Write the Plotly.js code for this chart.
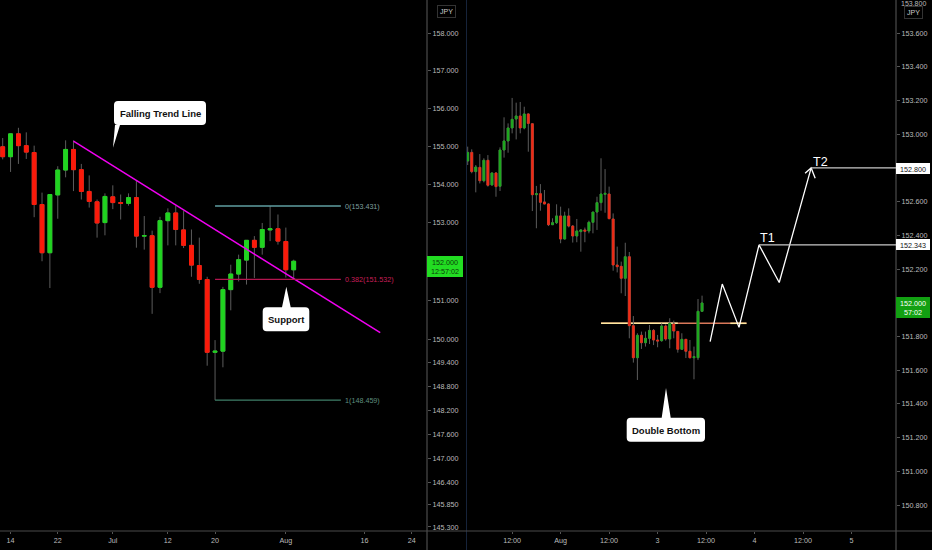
<!DOCTYPE html>
<html>
<head>
<meta charset="utf-8">
<script src="https://cdn.plot.ly/plotly-3.0.1.min.js"></script>
<style>html,body{margin:0;padding:0;background:#000}#chart{width:932px;height:550px}</style>
</head>
<body>
<div id="chart"></div>
<script>
// left pane (daily) candles
const dOpen  = [154.98,154.72,155.32,155.01,154.83,153.47,152.22,153.72,154.37,154.91,154.38,153.81,153.54,153.00,153.67,153.52,153.50,153.65,152.65,152.66,151.33,153.05,153.25,152.81,152.41,151.89,151.53,149.67,149.70,151.27,151.67,152.03,152.54,152.36,152.81,152.84,152.51,151.78];
const dHigh  = [155.21,155.33,155.48,155.36,155.01,153.78,153.73,154.47,155.15,155.15,154.53,154.23,153.60,153.76,153.97,153.73,153.76,154.10,153.17,152.79,153.15,153.37,153.44,153.30,152.82,152.61,151.60,149.98,151.34,151.91,152.17,152.54,152.65,152.99,153.43,153.21,152.87,152.04];
const dLow   = [154.65,154.32,154.53,154.66,153.14,152.00,151.31,153.10,154.18,153.82,153.60,153.39,152.61,152.67,153.35,153.08,153.44,152.35,152.30,150.65,151.18,152.41,152.41,152.34,151.60,151.42,149.33,148.46,149.29,150.74,151.48,151.40,151.57,152.17,152.52,152.43,151.58,151.55];
const dClose = [154.72,155.32,155.01,154.84,153.47,152.22,153.73,154.37,154.91,154.38,153.81,153.55,152.99,153.68,153.52,153.50,153.65,152.65,152.66,151.33,153.05,153.25,152.82,152.41,151.90,151.53,149.67,149.70,151.27,151.67,152.04,152.54,152.36,152.82,152.84,152.52,151.78,152.00];

// right pane (hourly) candles
const hOpen  = [152.841,152.892,152.778,152.803,152.724,152.845,152.699,152.770,152.691,152.906,152.960,153.037,153.090,153.108,153.037,153.120,153.062,152.641,152.647,152.598,152.586,152.463,152.475,152.515,152.378,152.515,152.455,152.396,152.422,152.432,152.426,152.477,152.538,152.594,152.643,152.645,152.497,152.224,152.216,152.145,152.273,151.864,151.674,151.807,151.763,151.789,151.836,151.779,151.775,151.862,151.785,151.874,151.830,151.724,151.783,151.712,151.674,151.674,151.949];
const hHigh  = [152.926,152.910,152.817,152.882,152.857,152.876,152.772,152.774,152.922,153.100,153.064,153.215,153.187,153.191,153.163,153.124,153.064,152.693,152.704,152.669,152.590,152.501,152.584,152.570,152.540,152.560,152.461,152.497,152.436,152.446,152.487,152.538,152.629,152.857,152.793,152.689,152.530,152.333,152.244,152.356,152.301,151.921,151.819,151.829,151.829,151.868,151.844,151.809,151.878,151.872,151.908,151.894,151.830,151.819,151.783,151.779,151.740,152.022,152.042];
const hLow   = [152.817,152.768,152.655,152.708,152.714,152.689,152.695,152.629,152.663,152.861,152.890,153.005,152.969,153.005,153.029,152.896,152.544,152.442,152.546,152.584,152.455,152.461,152.467,152.353,152.376,152.447,152.357,152.359,152.303,152.359,152.412,152.412,152.432,152.546,152.534,152.495,152.190,152.180,152.056,152.040,151.789,151.645,151.542,151.726,151.740,151.755,151.749,151.736,151.769,151.775,151.730,151.789,151.704,151.720,151.672,151.670,151.546,151.660,151.949];
const hClose = [152.892,152.778,152.805,152.724,152.845,152.697,152.770,152.689,152.906,152.960,153.037,153.088,153.108,153.037,153.120,153.064,152.641,152.647,152.596,152.586,152.463,152.475,152.515,152.378,152.515,152.455,152.396,152.426,152.432,152.424,152.477,152.538,152.594,152.645,152.649,152.499,152.224,152.214,152.145,152.273,151.864,151.674,151.807,151.763,151.789,151.836,151.779,151.773,151.862,151.785,151.878,151.832,151.724,151.783,151.712,151.674,151.680,151.949,151.999];

// tick labels
const leftTicks  = [158,157,156,155,154,153,151,150,149.4,148.8,148.2,147.6,147,146.4,145.85,145.3];
const leftLabels = ["158.000","157.000","156.000","155.000","154.000","153.000","151.000","150.000","149.400","148.800","148.200","147.600","147.000","146.400","145.850","145.300"];
const rightTicks = [153.6,153.4,153.2,153,152.8,152.6,152.4,152.2,152,151.8,151.6,151.4,151.2,151,150.8];
const rightLabels = rightTicks.map(v => v.toFixed(3));
const leftDateIdx = [1,7,14,21,27,36,46,52];
const leftDateLabels = ["14","22","Jul","12","20","Aug","16","24"];
const rightDateIdx = [11,23,35,47,59,71,83,95];
const rightDateLabels = ["12:00","Aug","12:00","3","12:00","4","12:00","5"];

// drawings
const trendX = [9,48];
const trendY = [155.13,150.17];
const fibLevels = [153.431,151.532,148.459];
const fibNames = ["0(153.431)","0.382(151.532)","1(148.459)"];
const fibColors = ["#5f9ea0","#b3164f","#3f7f68"];
const fibTextColors = ["#7f9f9f","#c81f58","#5f8f7f"];
const fibX = [27,43];
const pathX = [60,63,67.15,72.1,77.1,85];
const pathY = [151.769,152.111,151.854,152.343,152.12,152.80];
const headX = [83.5,85,86];
const headY = [152.768,152.80,152.738];
const t1X = [72.1,106], t1Y = [152.343,152.343];
const t2X = [85,106], t2Y = [152.80,152.80];
const baseLevel = 151.878;

const idx = a => a.map((_, i) => i);
const W = 932, H = 550;
const px = x => x / W;
const py = y => 1 - y / H;
const font = '"Liberation Sans", Arial, sans-serif';

function candleTraces(o, h, l, c, xa, ya, green, red, bodyLine) {
  const x = idx(o);
  const top = o.map((v, i) => Math.max(v, c[i]));
  const bot = o.map((v, i) => Math.min(v, c[i]));
  return [
    { type: "candlestick", x, open: o, high: h, low: l, close: c, xaxis: xa, yaxis: ya, hoverinfo: "skip",
      increasing: { line: { color: "#5c5c5c", width: 1 }, fillcolor: "#5c5c5c" },
      decreasing: { line: { color: "#5c5c5c", width: 1 }, fillcolor: "#5c5c5c" } },
    { type: "candlestick", x, open: o, high: top, low: bot, close: c, xaxis: xa, yaxis: ya, hoverinfo: "skip",
      increasing: { line: { color: green, width: bodyLine }, fillcolor: green },
      decreasing: { line: { color: red, width: bodyLine }, fillcolor: red } },
  ];
}

function lineTrace(x, y, xa, ya, color, width) {
  return { type: "scatter", mode: "lines", x, y, xaxis: xa, yaxis: ya, hoverinfo: "skip",
    line: { color, width } };
}

const traces = [
  ...candleTraces(dOpen, dHigh, dLow, dClose, "x", "y", "#20d420", "#fb1a0a", 1),
  ...candleTraces(hOpen, hHigh, hLow, hClose, "x2", "y2", "#1ea91e", "#f02a14", 0.6),
  lineTrace(trendX, trendY, "x", "y", "#f000f0", 1.5),
  lineTrace(pathX, pathY, "x2", "y2", "#ffffff", 1.3),
  lineTrace(headX, headY, "x2", "y2", "#ffffff", 1.3),
  lineTrace(t1X, t1Y, "x2", "y2", "#c8c8c8", 1.2),
  lineTrace(t2X, t2Y, "x2", "y2", "#c8c8c8", 1.2),
];

// callout: rounded box + tail, in page pixels
function bubble(x0, y0, x1, y1, tail) {
  const r = 4;
  const P = (x, y) => px(x) + "," + py(y);
  let d = "M" + P(x0 + r, y0) + " L" + P(x1 - r, y0) + " Q" + P(x1, y0) + " " + P(x1, y0 + r) +
    " L" + P(x1, y1 - r) + " Q" + P(x1, y1) + " " + P(x1 - r, y1);
  if (tail.side === "bottom") {
    d += " L" + P(tail.b1, y1) + " L" + P(tail.x, tail.y) + " L" + P(tail.b0, y1);
  }
  d += " L" + P(x0 + r, y1) + " Q" + P(x0, y1) + " " + P(x0, y1 - r) + " L" + P(x0, y0 + r) + " Q" + P(x0, y0) + " " + P(x0 + r, y0);
  if (tail.side === "top") {
    d = "M" + P(tail.b0, y0) + " L" + P(tail.x, tail.y) + " L" + P(tail.b1, y0) + " Z " + d;
  }
  return { type: "path", xref: "paper", yref: "paper", path: d + " Z", fillcolor: "#fff", line: { width: 0 }, layer: "above" };
}

const vline = (x, color) => ({ type: "line", xref: "paper", yref: "paper", x0: px(x), x1: px(x), y0: 0, y1: 1, line: { color, width: 1 }, layer: "below" });
const tag = (x0, y0, x1, y1, color) => ({ type: "rect", xref: "paper", yref: "paper", x0: px(x0), x1: px(x1), y0: py(y0), y1: py(y1), fillcolor: color, line: { width: 0 }, layer: "above" });

const shapes = [
  vline(427, "#5a5a5a"), vline(466.5, "#16233a"), vline(896, "#5a5a5a"),
  { type: "line", xref: "paper", yref: "paper", x0: 0, x1: 1, y0: py(531), y1: py(531), line: { color: "#4a4a4a", width: 1.2 }, layer: "below" },
  ...fibLevels.map((v, i) => ({ type: "line", xref: "x", yref: "y", x0: fibX[0], x1: fibX[1], y0: v, y1: v, line: { color: fibColors[i], width: 1.3 }, layer: "above" })),
  { type: "line", xref: "x2", yref: "y2", x0: 33, x1: 69, y0: baseLevel, y1: baseLevel, line: { color: "#d9785a", width: 1.5 }, layer: "below" },
  { type: "line", xref: "x2", yref: "y2", x0: 33, x1: 52, y0: baseLevel, y1: baseLevel, line: { color: "#ffe9a0", width: 1.5 }, layer: "below" },
  { type: "line", xref: "x2", yref: "y2", x0: 65, x1: 69, y0: baseLevel, y1: baseLevel, line: { color: "#ffe9a0", width: 1.5 }, layer: "below" },
  bubble(114, 101, 206, 125, { side: "bottom", b0: 115, b1: 120, x: 113, y: 147.7 }),
  bubble(262.7, 307.3, 309.3, 331.3, { side: "top", b0: 282, b1: 290.7, x: 286.3, y: 286.7 }),
  bubble(626.7, 417.7, 705, 441.7, { side: "top", b0: 661.7, b1: 670.7, x: 666, y: 388 }),
  tag(427, 256, 463, 277, "#22dd22"),
  tag(896, 297, 930, 318, "#12a012"),
  tag(896, 163, 930, 174, "#fff"),
  tag(896, 239, 930, 250, "#fff"),
];

const note = (x, y, text, color, size, extra) => Object.assign({
  xref: "paper", yref: "paper", x: px(x), y: py(y), text, showarrow: false,
  font: { family: font, size, color }, xanchor: "center", yanchor: "middle",
}, extra || {});

const annotations = [
  note(160, 113, "<b>Falling Trend Line</b>", "#111", 9.5),
  note(286, 319.3, "<b>Support</b>", "#111", 9.5),
  note(666, 430, "<b>Double Bottom</b>", "#111", 9.5),
  note(767, 238, "T1", "#fff", 12.5),
  note(820, 162, "T2", "#fff", 12.5),
  note(445, 262, "152.000", "#0a3a0a", 7.2),
  note(445, 271, "12:57:02", "#0a3a0a", 7.2),
  note(913, 303, "152.000", "#fff", 7.2),
  note(913, 312, "57:02", "#fff", 7.2),
  note(913, 169, "152.800", "#111", 7.2),
  note(913, 245, "152.343", "#111", 7.2),
  note(913, 3, "153.800", "#bbb", 7),
  note(446.5, 11, "JPY", "#ccc", 7, { bordercolor: "#333", borderwidth: 1, borderpad: 2 }),
  note(913.5, 12, "JPY", "#ccc", 7, { bordercolor: "#333", borderwidth: 1, borderpad: 2 }),
  ...fibLevels.map((v, i) => ({
    xref: "x", yref: "y", x: 43.3, y: Math.log10(v), text: fibNames[i], showarrow: false,
    font: { family: font, size: 7.2, color: fibTextColors[i] }, xanchor: "left", yanchor: "middle",
  })),
];

const xAxisBase = {
  showgrid: false, zeroline: false, showline: false, rangeslider: { visible: false },
  tickmode: "array", ticks: "outside", ticklen: 2, tickcolor: "#555",
  tickfont: { family: font, size: 7.2, color: "#bbb" }, tickangle: 0,
};
const yAxisBase = {
  showgrid: false, zeroline: false, showline: false, side: "right",
  tickmode: "array", ticks: "outside", ticklen: 3, tickcolor: "#555",
  tickfont: { family: font, size: 7.2, color: "#bbb" },
};

const layout = {
  width: W, height: H,
  margin: { l: 0, r: 0, t: 0, b: 0 },
  paper_bgcolor: "#000", plot_bgcolor: "#000",
  showlegend: false, dragmode: false, boxgap: 0.3,
  xaxis: { ...xAxisBase, domain: [0, px(427)], range: [-0.343, 53.95], tickvals: leftDateIdx, ticktext: leftDateLabels, anchor: "y" },
  yaxis: { ...yAxisBase, domain: [19 / H, 1], type: "log", range: [2.16197, 2.20109], tickvals: leftTicks, ticktext: leftLabels, anchor: "x" },
  xaxis2: { ...xAxisBase, domain: [px(467), px(896)], range: [-0.17, 106], tickvals: rightDateIdx, ticktext: rightDateLabels, anchor: "y2" },
  yaxis2: { ...yAxisBase, domain: [19 / H, 1], range: [150.646, 153.796], tickvals: rightTicks, ticktext: rightLabels, anchor: "x2" },
  shapes, annotations,
};

Plotly.newPlot("chart", traces, layout, { displayModeBar: false, staticPlot: true });
</script>
</body>
</html>
